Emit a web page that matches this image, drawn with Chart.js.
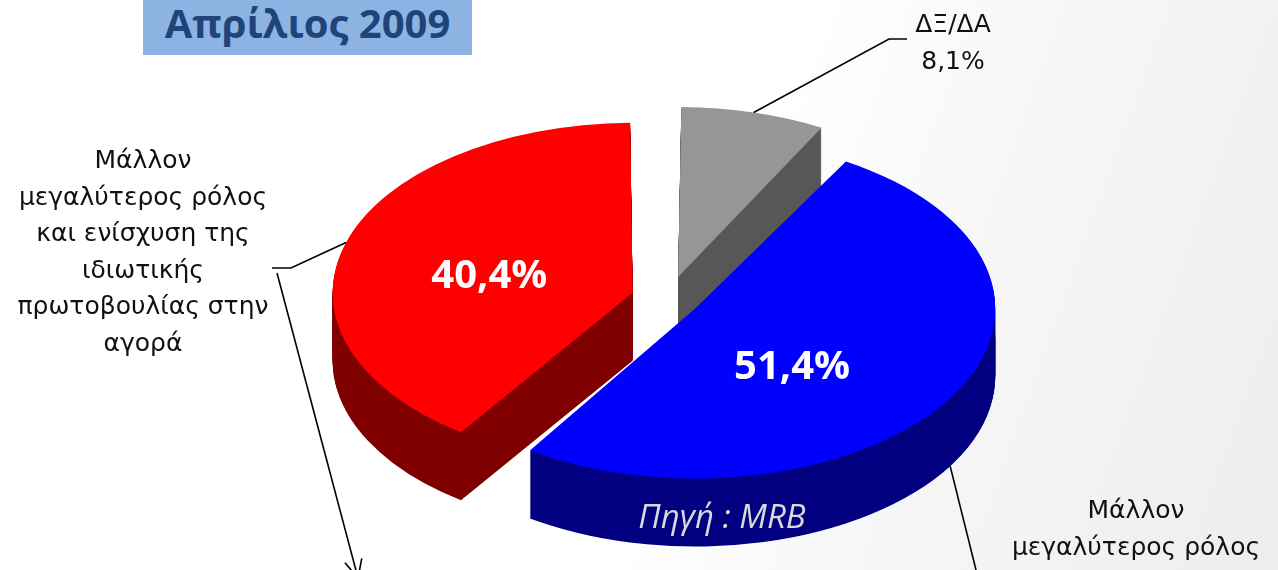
<!DOCTYPE html>
<html lang="el">
<head>
<meta charset="utf-8">
<title>Απρίλιος 2009</title>
<script src="https://cdn.jsdelivr.net/npm/chart.js@4.4.1/dist/chart.umd.min.js"></script>
<style>
    html, body { margin: 0; padding: 0; background: #fff; }
    #wrap {
        position: relative; width: 1278px; height: 570px; overflow: hidden;
        background: linear-gradient(110deg, #ffffff 0%, #ffffff 55%, #f8f8f8 68%, #f2f2f2 85%, #ededed 100%);
    }
    #pie { position: absolute; left: 0; top: 0; }
    .title {
        position: absolute; left: 143px; top: -12px; width: 329px; height: 67px;
        background: #8db3e2; color: #1f4479; text-align: center;
        font: bold 40px "Open Sans", sans-serif; line-height: 70px;
    }
    .callout {
        position: absolute; text-align: center; color: #111;
        font-family: "DejaVu Sans", sans-serif;
        font-size: 25px; line-height: 36.5px; white-space: nowrap;
        transform: translateX(-50%);
    }
    .source {
        position: absolute; left: 722px; top: 493px; transform: translateX(-50%);
        font: italic 33px "Open Sans", sans-serif; color: #d9d9d9; white-space: nowrap;
    }
</style>
</head>
<body>
<div id="wrap">
    <canvas id="pie" width="1278" height="570"></canvas>
    <div class="title">Απρίλιος 2009</div>
    <div class="callout" style="left:143px; top:142px;">Μάλλον<br>μεγαλύτερος ρόλος<br>και ενίσχυση της<br>ιδιωτικής<br>πρωτοβουλίας στην<br>αγορά</div>
    <div class="callout" style="left:953px; top:6px;">ΔΞ/ΔΑ<br>8,1%</div>
    <div class="callout" style="left:1136px; top:492px;">Μάλλον<br>μεγαλύτερος ρόλος</div>
    <div class="source">Πηγή : MRB</div>
</div>
<script>
// --- Data ---
const categories = ['ΔΞ/ΔΑ', 'Μάλλον μεγαλύτερος ρόλος', 'Μάλλον μεγαλύτερος ρόλος και ενίσχυση της ιδιωτικής πρωτοβουλίας στην αγορά'];
const shares = [8.1, 51.4, 40.4];
const shareLabels = ['8,1%', '51,4%', '40,4%'];

// --- Look ---
const topColors = ['#969696', '#0000ff', '#ff0000'];
const sideColors = ['#575757', '#000080', '#800000'];
const explode = [40, 32, 37];        // px each slice is pulled out
const tilt = 170 / 300;              // vertical squash of the disc
const depth = 68;                    // thickness of the disc
const drawOrder = [0, 2, 1];         // back to front
const labelRadius = [0, 0.38, 0.5];  // where the % text sits along the slice
const labelDrop = [0, 25, 9];        // excel sets them a bit lower

// squash the pie around its centre, optionally pushed down by dy
function project(ctx, cx, cy, dy) {
    ctx.translate(cx, cy + dy);
    ctx.scale(1, tilt);
    ctx.translate(-cx, -cy);
}

// centre of a pulled out slice, screen pixels
function sliceCentre(arc) {
    const off = (arc.options.offset || 0) / 4;
    const mid = (arc.startAngle + arc.endAngle) / 2;
    return { x: arc.x + Math.cos(mid) * off, y: arc.y + Math.sin(mid) * off * tilt };
}

// point on the outer rim of a slice, screen pixels
function rimPoint(arc, angle, dy) {
    const off = (arc.options.offset || 0) / 4;
    const fix = 1 - Math.sin(Math.min(Math.PI, arc.circumference));
    const r = arc.outerRadius + off * fix;
    const c = sliceCentre(arc);
    return { x: c.x + Math.cos(angle) * r, y: c.y + Math.sin(angle) * r * tilt + dy };
}

function polyline(ctx, pts) {
    ctx.beginPath();
    ctx.moveTo(pts[0].x, pts[0].y);
    pts.slice(1).forEach(p => ctx.lineTo(p.x, p.y));
    ctx.stroke();
}

const pie3d = {
    id: 'pie3d',
    afterDatasetsUpdate(chart) {
        // arc.draw() grows the radius of offset slices, take that back out
        chart.getDatasetMeta(0).data.forEach(arc => {
            const off = (arc.options.offset || 0) / 4;
            const fix = 1 - Math.sin(Math.min(Math.PI, arc.circumference));
            arc.outerRadius -= off * fix;
        });
    },
    beforeDatasetsDraw(chart) {
        const ctx = chart.ctx;
        const arcs = chart.getDatasetMeta(0).data;
        const cx = arcs[0].x, cy = arcs[0].y;

        // sides: the same slice drawn again and again, shifted down, in the dark colour
        drawOrder.forEach(i => {
            const shadow = Object.create(arcs[i]);
            shadow.options = Object.assign({}, arcs[i].options, {
                backgroundColor: sideColors[i], borderWidth: 0
            });
            for (let d = depth; d > 0; d--) {
                ctx.save();
                project(ctx, cx, cy, d);
                arcs[i].draw.call(shadow, ctx);
                ctx.restore();
            }
        });

        // tops: drawn by chart.js inside the squashed space
        ctx.save();
        project(ctx, cx, cy, 0);
    },
    afterDatasetsDraw(chart) {
        const ctx = chart.ctx;
        ctx.restore();
        const arcs = chart.getDatasetMeta(0).data;
        const midOf = a => (a.startAngle + a.endAngle) / 2;

        // % labels inside the slices
        ctx.save();
        ctx.font = 'bold 40px "Open Sans", sans-serif';
        ctx.fillStyle = '#ffffff';
        ctx.textAlign = 'center';
        ctx.textBaseline = 'middle';
        arcs.forEach((arc, i) => {
            if (!labelRadius[i]) return;
            const c = sliceCentre(arc);
            const p = rimPoint(arc, midOf(arc), 0);
            const f = labelRadius[i];
            ctx.fillText(shareLabels[i], c.x + (p.x - c.x) * f, c.y + (p.y - c.y) * f + labelDrop[i]);
        });
        ctx.restore();

        // leader lines
        ctx.save();
        ctx.strokeStyle = '#000';
        ctx.lineWidth = 1.6;

        const g = rimPoint(arcs[0], midOf(arcs[0]), 0);
        polyline(ctx, [g, {x: 889, y: 39}, {x: 907, y: 39}]);

        const r = rimPoint(arcs[2], midOf(arcs[2]), 0);
        polyline(ctx, [r, {x: 291, y: 268}, {x: 272, y: 268}]);

        const b = rimPoint(arcs[1], midOf(arcs[1]), depth);
        polyline(ctx, [b, {x: 981, y: 590}]);

        // arrow from the left callout downwards
        const tail = {x: 277, y: 273}, tip = {x: 358, y: 578};
        polyline(ctx, [tail, tip]);
        const ang = Math.atan2(tip.y - tail.y, tip.x - tail.x);
        [0.45, -0.45].forEach(s => {
            polyline(ctx, [tip, {x: tip.x - 20 * Math.cos(ang + s), y: tip.y - 20 * Math.sin(ang + s)}]);
        });
        ctx.restore();
    }
};

new Chart(document.getElementById('pie').getContext('2d'), {
    type: 'pie',
    data: {
        labels: categories,
        datasets: [{
            data: shares,
            backgroundColor: topColors,
            borderWidth: 0,
            offset: explode.map(d => d * 4),
            hoverOffset: 0,
            clip: false
        }]
    },
    options: {
        responsive: false,
        animation: false,
        events: [],
        radius: 300,
        rotation: 0,
        layout: { padding: { left: 58, top: 28 } },
        plugins: {
            legend: { display: false },
            tooltip: { enabled: false }
        }
    },
    plugins: [pie3d]
});
</script>
</body>
</html>
